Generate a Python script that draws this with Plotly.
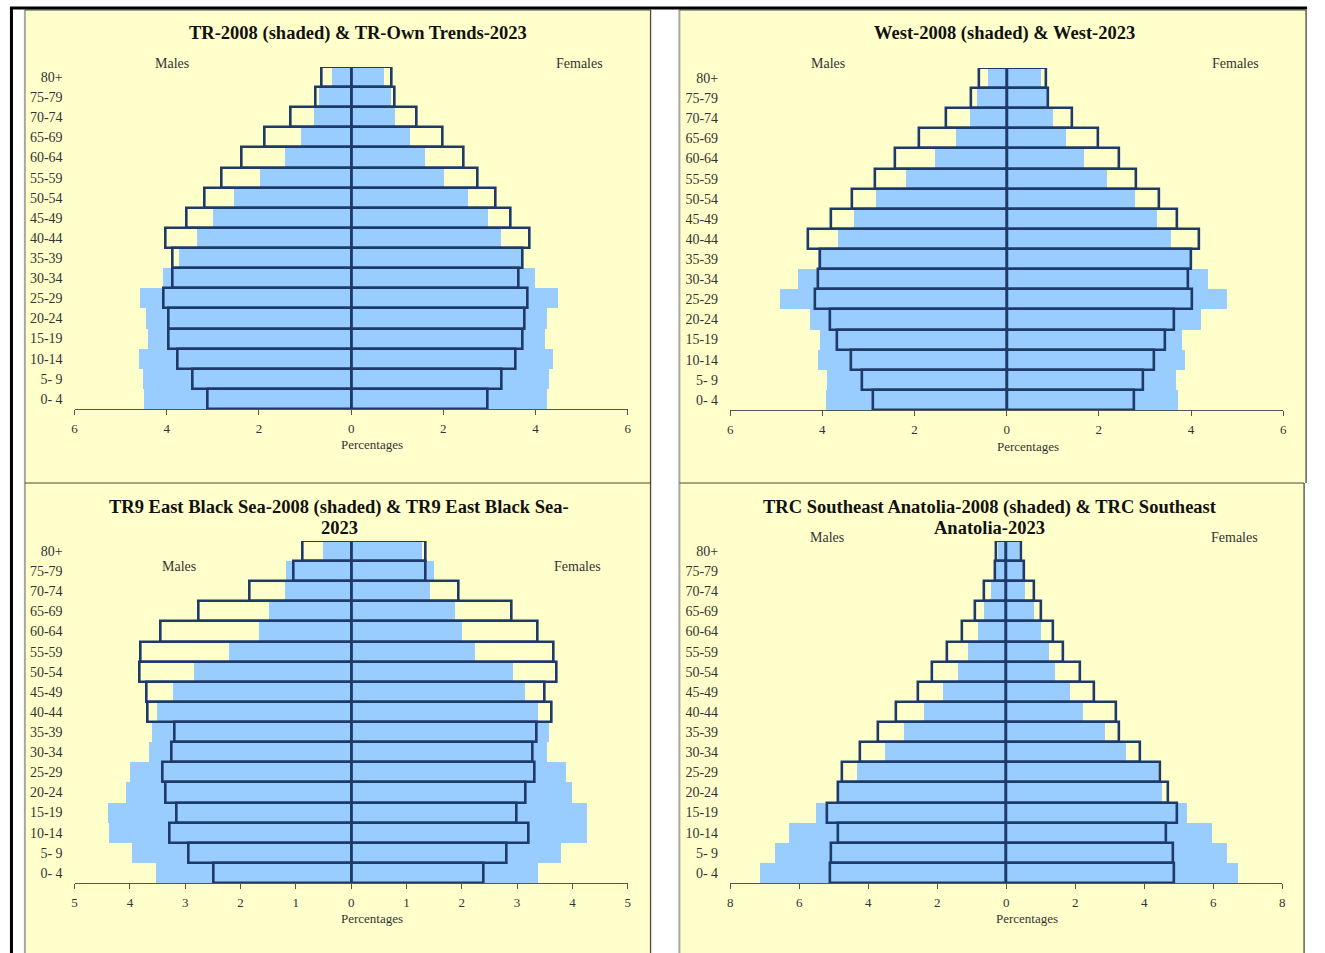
import plotly.graph_objects as go

W, H = 1325, 953

# Age groups, youngest first (bottom of each pyramid)
AGE_GROUPS = ["0- 4", "5- 9", "10-14", "15-19", "20-24", "25-29", "30-34", "35-39",
              "40-44", "45-49", "50-54", "55-59", "60-64", "65-69", "70-74", "75-79", "80+"]

# Turkey: 2008 (shaded) vs Own Trends 2023 (outlined), % of population
TR_MALE_2008 = [4.50, 4.52, 4.62, 4.41, 4.45, 4.60, 4.10, 3.75, 3.35, 3.00, 2.55, 1.99, 1.45, 1.10, 0.81, 0.71, 0.42]
TR_FEMALE_2008 = [4.24, 4.28, 4.37, 4.19, 4.25, 4.47, 3.99, 3.69, 3.25, 2.96, 2.52, 2.01, 1.59, 1.26, 0.95, 0.85, 0.71]
TR_MALE_2023 = [3.12, 3.45, 3.77, 3.95, 3.95, 4.06, 3.87, 3.88, 4.02, 3.57, 3.19, 2.80, 2.38, 1.88, 1.31, 0.77, 0.64]
TR_FEMALE_2023 = [2.96, 3.27, 3.57, 3.72, 3.76, 3.82, 3.64, 3.72, 3.88, 3.47, 3.14, 2.75, 2.43, 1.99, 1.43, 0.95, 0.88]

# West
WEST_MALE_2008 = [3.92, 3.90, 4.10, 4.04, 4.26, 4.92, 4.53, 4.08, 3.65, 3.32, 2.83, 2.18, 1.56, 1.10, 0.80, 0.65, 0.41]
WEST_FEMALE_2008 = [3.71, 3.68, 3.87, 3.80, 4.21, 4.78, 4.38, 3.98, 3.56, 3.26, 2.79, 2.18, 1.67, 1.29, 1.00, 0.89, 0.75]
WEST_MALE_2023 = [2.90, 3.14, 3.38, 3.67, 3.83, 4.15, 4.08, 4.04, 4.30, 3.80, 3.35, 2.86, 2.43, 1.91, 1.31, 0.77, 0.59]
WEST_FEMALE_2023 = [2.77, 2.97, 3.19, 3.44, 3.64, 4.02, 3.94, 4.00, 4.17, 3.69, 3.30, 2.81, 2.45, 1.98, 1.41, 0.91, 0.86]

# TR9 East Black Sea
EBS_MALE_2008 = [3.54, 3.97, 4.38, 4.41, 4.07, 4.01, 3.66, 3.60, 3.51, 3.22, 2.85, 2.22, 1.67, 1.49, 1.21, 1.18, 0.51]
EBS_FEMALE_2008 = [3.37, 3.78, 4.25, 4.26, 3.99, 3.88, 3.54, 3.57, 3.38, 3.14, 2.92, 2.24, 2.00, 1.87, 1.41, 1.49, 1.28]
EBS_MALE_2023 = [2.49, 2.94, 3.29, 3.15, 3.35, 3.40, 3.24, 3.19, 3.68, 3.70, 3.82, 3.81, 3.44, 2.76, 1.84, 1.04, 0.87]
EBS_FEMALE_2023 = [2.39, 2.81, 3.20, 3.00, 3.16, 3.31, 3.29, 3.35, 3.62, 3.50, 3.71, 3.66, 3.38, 2.90, 1.95, 1.34, 1.35]

# TRC Southeast Anatolia
SEA_MALE_2008 = [7.13, 6.70, 6.30, 5.50, 4.84, 4.33, 3.50, 2.95, 2.37, 1.83, 1.38, 1.09, 0.81, 0.63, 0.43, 0.30, 0.22]
SEA_FEMALE_2008 = [6.73, 6.39, 5.98, 5.25, 4.53, 4.39, 3.47, 2.86, 2.24, 1.84, 1.41, 1.24, 1.00, 0.80, 0.56, 0.48, 0.38]
SEA_MALE_2023 = [5.10, 5.06, 4.86, 5.18, 4.88, 4.76, 4.22, 3.70, 3.18, 2.56, 2.15, 1.71, 1.27, 0.90, 0.63, 0.33, 0.28]
SEA_FEMALE_2023 = [4.87, 4.84, 4.65, 4.96, 4.69, 4.45, 3.88, 3.27, 3.19, 2.55, 2.14, 1.66, 1.36, 1.02, 0.80, 0.51, 0.42]

TITLES = [
    ["TR-2008 (shaded) & TR-Own Trends-2023"],
    ["West-2008 (shaded) & West-2023"],
    ["TR9 East Black Sea-2008 (shaded) & TR9 East Black Sea-", "2023"],
    ["TRC Southeast Anatolia-2008 (shaded) & TRC Southeast", "Anatolia-2023"],
]
AXIS_LIMITS = [6, 6, 5, 8]
AXIS_STEPS = [2, 2, 1, 2]

SERIES = [
    (TR_MALE_2008, TR_FEMALE_2008, TR_MALE_2023, TR_FEMALE_2023),
    (WEST_MALE_2008, WEST_FEMALE_2008, WEST_MALE_2023, WEST_FEMALE_2023),
    (EBS_MALE_2008, EBS_FEMALE_2008, EBS_MALE_2023, EBS_FEMALE_2023),
    (SEA_MALE_2008, SEA_FEMALE_2008, SEA_MALE_2023, SEA_FEMALE_2023),
]

# Pixel layout of each panel
PANELS = [
    dict(box=(22, 10, 651, 483), plot=(72, 628, 67, 409), title=(357, [34]),
         males=(170, 63), females=(580, 63), pct=(371, 444)),
    dict(box=(680, 10, 1310, 483), plot=(731, 1287, 68, 410), title=(1007, [34]),
         males=(829, 63), females=(1239, 63), pct=(1030, 446)),
    dict(box=(22, 483, 651, 953), plot=(72, 628, 541, 883), title=(338, [507, 528]),
         males=(177, 566), females=(578, 566), pct=(371, 918)),
    dict(box=(680, 483, 1308, 953), plot=(731, 1286, 541, 883), title=(992, [507, 528]),
         males=(828, 537), females=(1238, 537), pct=(1029, 918)),
]

SERIF = "Liberation Serif, Times New Roman, serif"
SHADE = "#99CCFF"
OUTLINE = "#1D3A68"
BG = "#FFFFCC"


def px(x):
    return x / W


def py(y):
    return 1 - y / H


fig = go.Figure()
shapes = []
annotations = []

for i, (panel, series) in enumerate(zip(PANELS, SERIES)):
    n = "" if i == 0 else str(i + 1)
    xa, ya = "x" + n, "y" + n
    m08, f08, m23, f23 = series

    for vals, sign, shaded in ((m08, -1, True), (f08, 1, True), (m23, -1, False), (f23, 1, False)):
        fig.add_trace(go.Bar(
            x=[sign * v for v in vals], y=AGE_GROUPS, orientation="h",
            xaxis=xa, yaxis=ya, showlegend=False,
            marker=dict(color=SHADE if shaded else "rgba(0,0,0,0)",
                        line=dict(width=0 if shaded else 2.6, color=OUTLINE)),
            hovertemplate="%{y}: %{customdata}<extra></extra>",
            customdata=vals,
        ))

    x0, x1, ytop, ybot = panel["plot"]
    lim, step = AXIS_LIMITS[i], AXIS_STEPS[i]
    ticks = list(range(-lim, lim + 1, step))
    fig.layout["xaxis" + n] = dict(
        domain=[px(x0), px(x1)], range=[-lim, lim], anchor=ya,
        tickvals=ticks, ticktext=[str(abs(t)) for t in ticks],
        showgrid=False, zeroline=False, showline=True, linecolor="#555555", linewidth=1,
        ticks="outside", ticklen=5, tickcolor="#555555", ticklabelstandoff=2,
        tickfont=dict(family=SERIF, size=13, color="#333333"), fixedrange=True,
    )
    fig.layout["yaxis" + n] = dict(
        domain=[py(ybot), py(ytop)], anchor=xa, type="category",
        categoryorder="array", categoryarray=AGE_GROUPS, range=[-0.5, len(AGE_GROUPS) - 0.5],
        showgrid=False, zeroline=False, showline=False, ticks="",
        ticklabelstandoff=11,
        tickfont=dict(family=SERIF, size=14, color="#333333"), fixedrange=True,
    )

    bx0, by0, bx1, by1 = panel["box"]
    shapes.append(dict(type="rect", xref="paper", yref="paper", layer="below",
                       x0=px(bx0), x1=px(bx1), y0=py(by1), y1=py(by0),
                       fillcolor=BG, line=dict(width=0)))
    # panel frame: grey left edge, dark right and bottom edges
    shapes.append(dict(type="line", xref="paper", yref="paper", layer="below",
                       x0=px(bx0), x1=px(bx0), y0=py(by1), y1=py(by0),
                       line=dict(color="#A8A8A0", width=2)))
    shapes.append(dict(type="line", xref="paper", yref="paper", layer="below",
                       x0=px(bx1), x1=px(bx1), y0=py(by1), y1=py(by0),
                       line=dict(color="#4A4A3A", width=1.3)))
    shapes.append(dict(type="line", xref="paper", yref="paper", layer="below",
                       x0=px(bx0), x1=px(bx1), y0=py(by0), y1=py(by0),
                       line=dict(color="#4A4A3A", width=1.2)))

    tx, tys = panel["title"]
    for line, ty in zip(TITLES[i], tys):
        annotations.append(dict(xref="paper", yref="paper", x=px(tx), y=py(ty),
                                text="<b>" + line + "</b>", showarrow=False,
                                xanchor="center", yanchor="middle",
                                font=dict(family=SERIF, size=18.5, color="#111111")))
    for key, label in (("males", "Males"), ("females", "Females")):
        lx, ly = panel[key]
        annotations.append(dict(xref="paper", yref="paper", x=px(lx), y=py(ly), text=label,
                                showarrow=False, xanchor="center", yanchor="middle",
                                font=dict(family=SERIF, size=14, color="#333333")))
    lx, ly = panel["pct"]
    annotations.append(dict(xref="paper", yref="paper", x=px(lx), y=py(ly), text="Percentages",
                            showarrow=False, xanchor="center", yanchor="middle",
                            font=dict(family=SERIF, size=13, color="#333333")))

# Outer black frame lines (top and left)
shapes.append(dict(type="line", xref="paper", yref="paper", x0=px(7), x1=px(1311),
                   y0=py(8), y1=py(8), line=dict(color="black", width=3)))
shapes.append(dict(type="line", xref="paper", yref="paper", x0=px(8.5), x1=px(8.5),
                   y0=py(7), y1=0, line=dict(color="black", width=3)))

fig.update_layout(
    width=W, height=H, margin=dict(l=0, r=0, t=0, b=0),
    paper_bgcolor="white", plot_bgcolor="rgba(0,0,0,0)",
    barmode="overlay", bargap=0,
    shapes=shapes, annotations=annotations,
)

fig.write_html("out.html")
